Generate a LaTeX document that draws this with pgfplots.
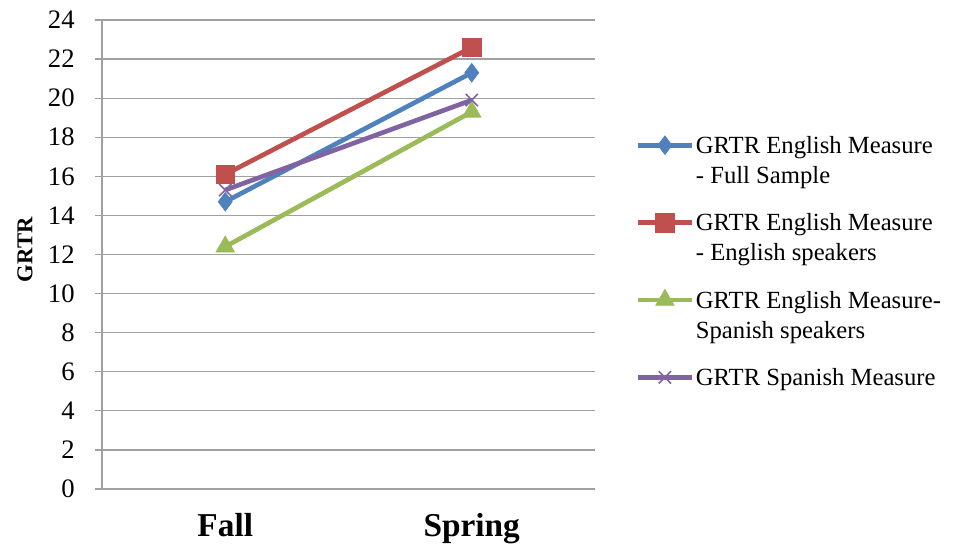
\documentclass[border=0pt]{standalone}
\usepackage{pgfplots}
\pgfplotsset{compat=1.18}
\usepackage{fontspec}
\setmainfont{Liberation Serif}
\definecolor{cblue}{HTML}{4F81BD}
\definecolor{cred}{HTML}{C0504D}
\definecolor{cgreen}{HTML}{9BBB59}
\definecolor{cpurple}{HTML}{8064A2}
\definecolor{gridgray}{HTML}{A0A0A0}
\begin{document}
\begin{tikzpicture}
\useasboundingbox (-76.5pt,-44.25pt) rectangle (652.5pt,366.75pt);
\begin{axis}[
  at={(0,0)}, anchor=south west,
  scale only axis,
  width=369.75pt, height=351.75pt,
  xmin=-0.5, xmax=1.5,
  ymin=0, ymax=24,
  ytick={0,2,...,24},
  xtick={0,1},
  xticklabels={Fall,Spring},
  xticklabel style={font=\fontsize{25}{28}\selectfont\bfseries, anchor=base, yshift=-31pt},
  yticklabel style={font=\fontsize{20}{24}\selectfont, xshift=-12pt},
  /pgf/number format/assume math mode=true,
  axis x line*=bottom,
  axis y line*=left,
  axis line style={gridgray, line width=0.9pt},
  major tick style={gridgray, line width=0.9pt},
  tick align=outside,
  major tick length=5pt,
  xtick style={draw=none},
  ymajorgrids,
  grid style={gridgray, line width=0.9pt},
  ylabel={GRTR},
  ylabel style={font=\fontsize{17}{20}\selectfont\bfseries, at={(axis description cs:-0.156,0.51)}, anchor=center},
  legend style={at={(axis description cs:1.073,0.762)}, anchor=north west, draw=none, fill=none,
    font=\fontsize{18.5}{22.5}\selectfont, nodes={align=left, inner sep=1pt}, row sep=19pt,
    cells={anchor=north west}},
  legend image code/.code={
    \draw[#1, mark=none] (0pt,-8pt) -- (41pt,-8pt);
    \draw[#1, only marks] plot coordinates {(20.5pt,-8pt)};
  },
  every axis plot/.append style={line width=3.5pt},
]
\addplot[cblue, mark=diamond*, mark size=7pt, mark options={solid, line width=0.5pt}] coordinates {(0,14.7) (1,21.3)};
\addlegendentry{GRTR English Measure\\- Full Sample}
\addplot[cred, mark=square*, mark size=7pt, mark options={solid, line width=0.5pt}] coordinates {(0,16.1) (1,22.6)};
\addlegendentry{GRTR English Measure\\- English speakers}
\addplot[cgreen, mark=triangle*, mark size=8pt, mark options={solid, line width=0.5pt}] coordinates {(0,12.4) (1,19.3)};
\addlegendentry{GRTR English Measure-\\Spanish speakers}
\addplot[cpurple, mark=x, mark size=6.5pt, mark options={solid, line width=1.2pt}] coordinates {(0,15.3) (1,19.9)};
\addlegendentry{GRTR Spanish Measure}
\end{axis}
\end{tikzpicture}
\end{document}
